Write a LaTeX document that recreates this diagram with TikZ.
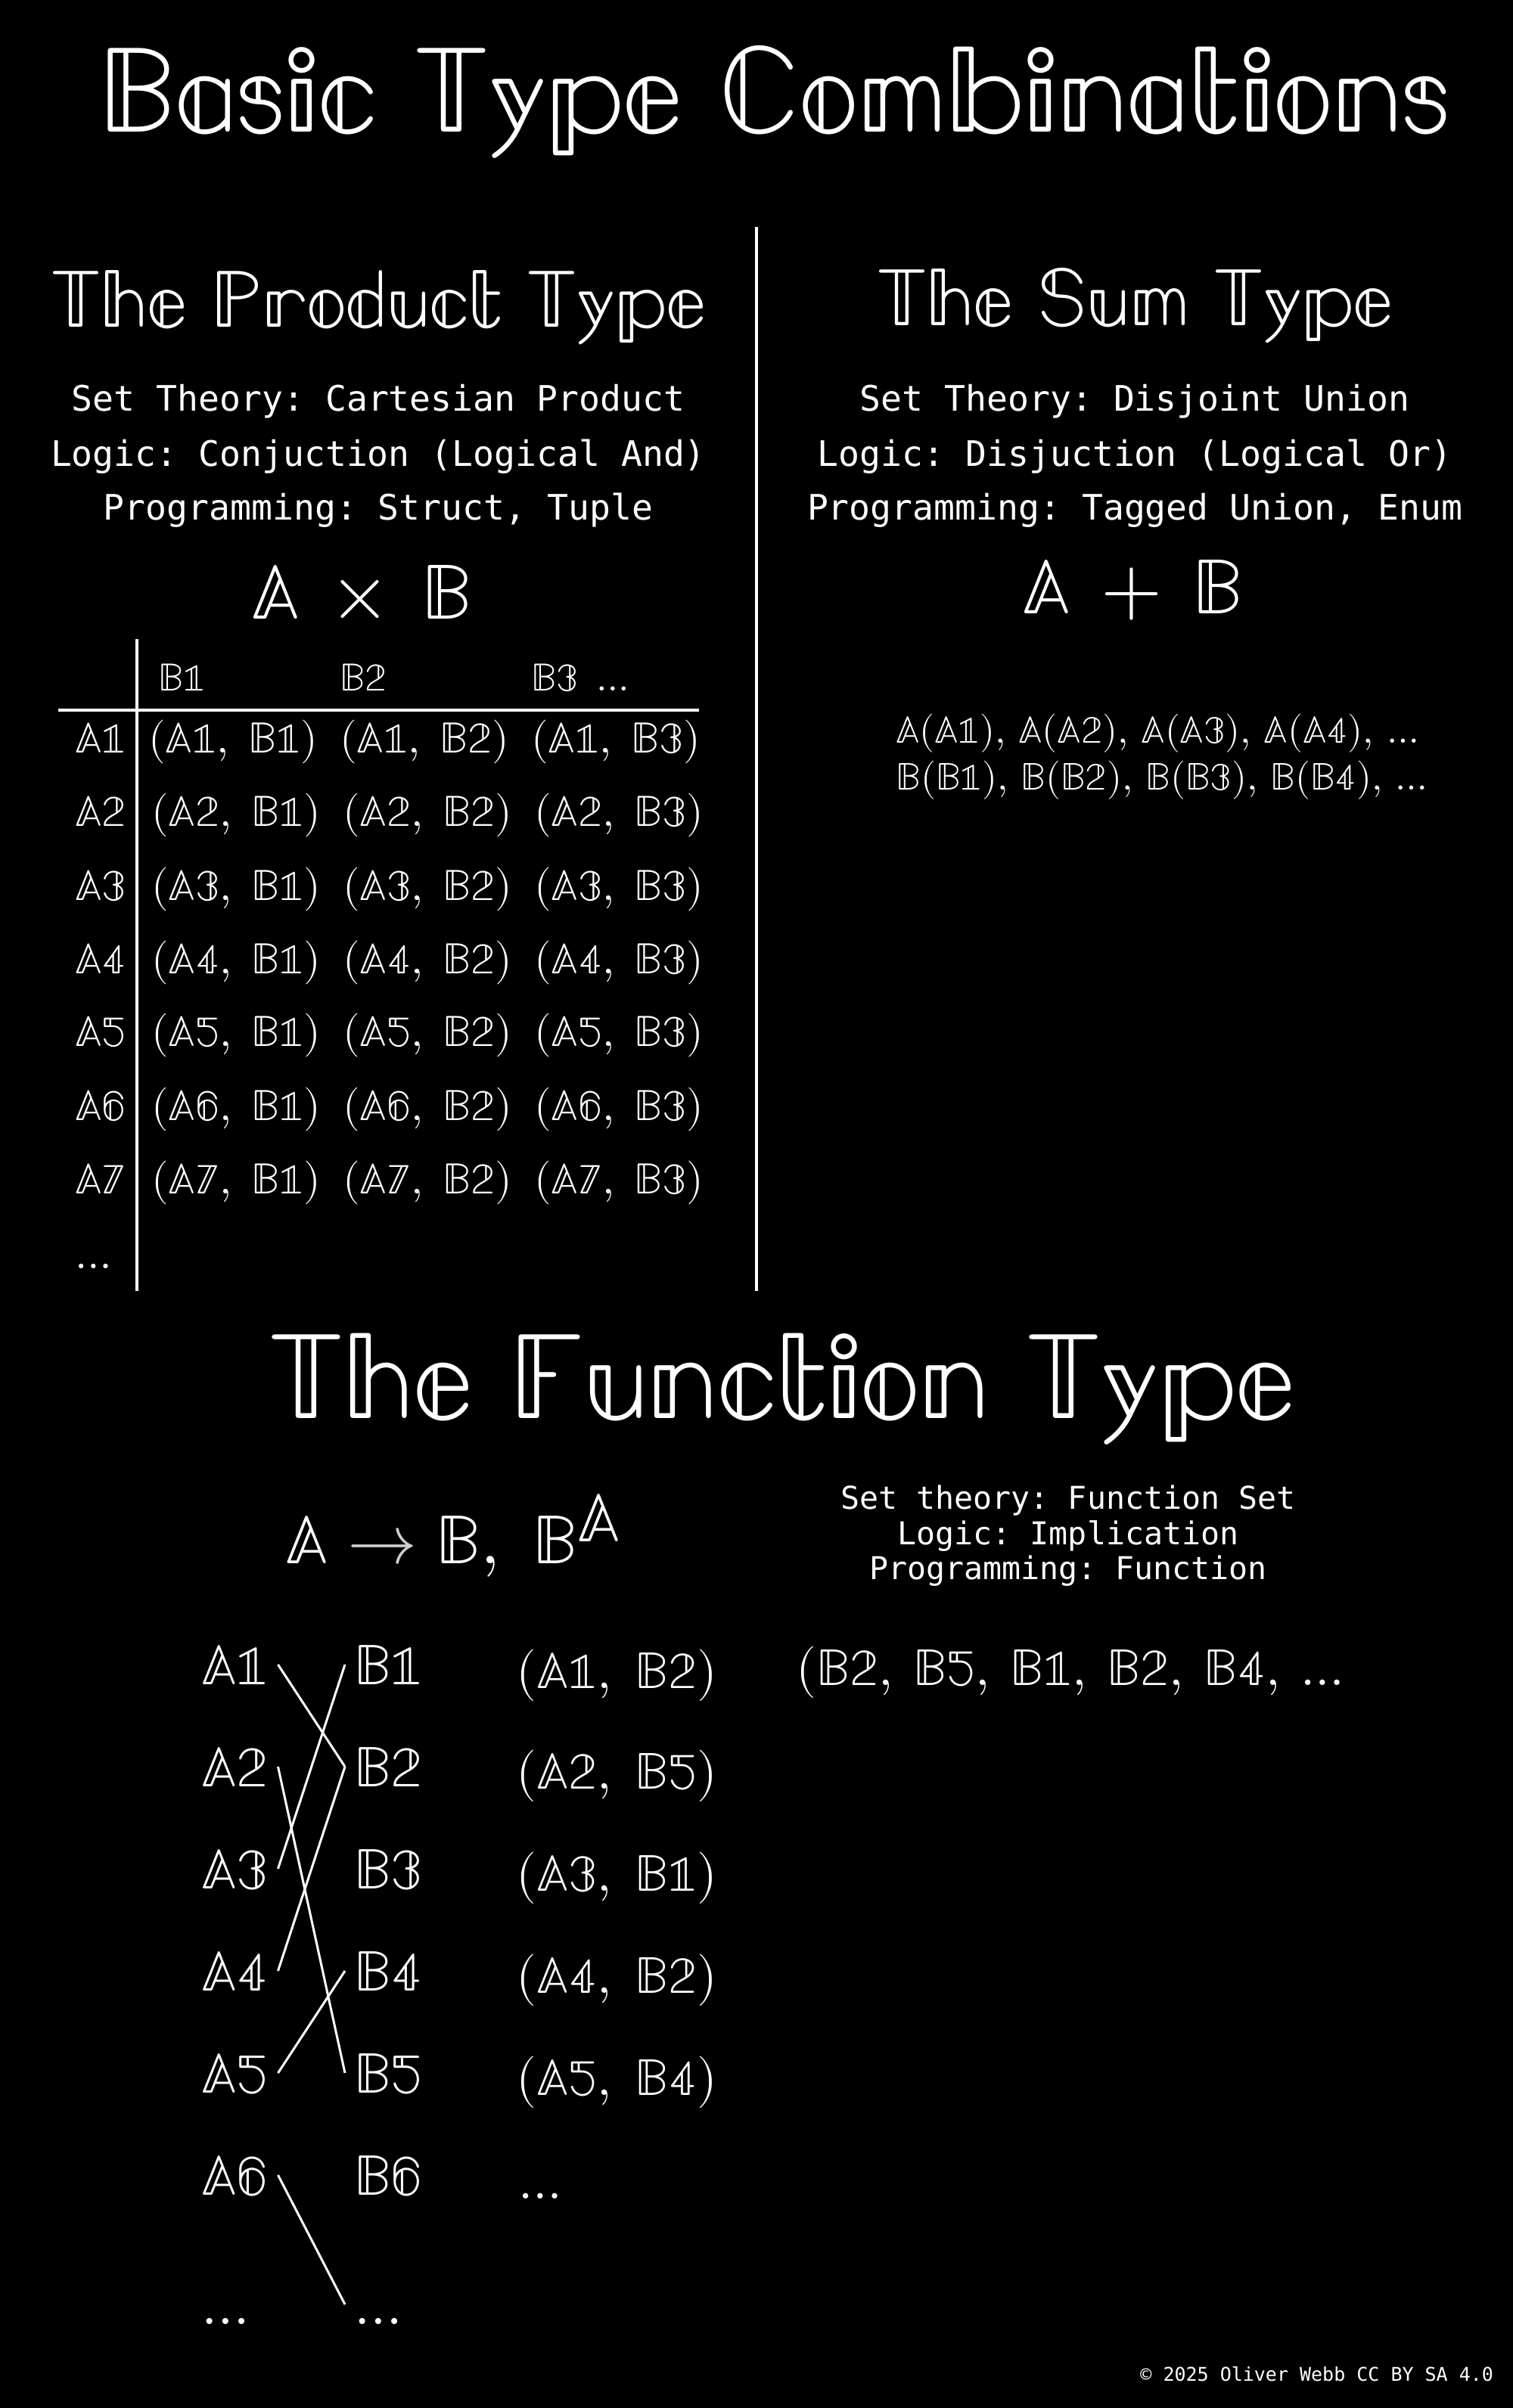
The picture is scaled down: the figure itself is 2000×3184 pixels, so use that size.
\documentclass[tikz,border=0pt]{standalone}
\usepackage{fontspec}
\usepackage{unicode-math}
\setmathfont{Latin Modern Math}
\newfontfamily\monofont{DejaVu Sans Mono}
\frenchspacing
\usetikzlibrary{positioning}
\definecolor{arrowgrey}{RGB}{205,205,205}
\tikzset{
  bigtitle/.style = {text=white, anchor=base, inner sep=0pt,
                     font=\fontsize{81}{83}\selectfont},
  head/.style     = {text=white, anchor=base, inner sep=0pt,
                     font=\fontsize{54}{56}\selectfont},
  sym/.style      = {head, font=\fontsize{52}{54}\selectfont},
  info/.style     = {text=white, anchor=base, inner sep=0pt,
                     font=\monofont\fontsize{23.2}{26}\selectfont},
  infosmall/.style= {text=white, anchor=base, inner sep=0pt,
                     font=\monofont\fontsize{20.8}{23}\selectfont},
  credit/.style   = {text=white, anchor=base west, inner sep=0pt,
                     font=\monofont\fontsize{12.5}{14}\selectfont},
  cell/.style     = {text=white, anchor=base west, inner sep=0pt,
                     font=\fontsize{29}{31}\selectfont},
  sumcell/.style  = {cell, font=\fontsize{25.6}{28}\selectfont},
  colhead/.style  = {cell, font=\fontsize{26}{28}\selectfont},
  arrowsym/.style = {text=white, anchor=base west, inner sep=0pt,
                     font=\fontsize{46}{48}\selectfont},
  elem/.style     = {text=white, anchor=base west, inner sep=6pt,
                     text height=26pt, text depth=0pt,
                     font=\fontsize{38}{40}\selectfont},
  pair/.style     = {text=white, anchor=base west, inner sep=0pt,
                     font=\fontsize{34.4}{36}\selectfont},
  tabline/.style  = {white, line width=2.2pt},
  mapline/.style  = {white, line width=1.5pt}
}

\begin{document}
\begin{tikzpicture}[x=0.5pt, y=-0.5pt]
  \fill[black] (0,0) rectangle (2000,3184);
  \useasboundingbox (0,0) rectangle (2000,3184);

  % title
  \node[bigtitle] (title) at (1023,175) {$\mathbb{Basic}\ \mathbb{Type}\ \mathbb{Combinations}$};

  % product type
  \node[head] (prod) at (500,432) {$\mathbb{The}\ \mathbb{Product}\ \mathbb{Type}$};
  \node[info] (prodset) at (500,543) {Set Theory: Cartesian Product};
  \node[info] (prodlogic) at (500,616) {Logic: Conjuction (Logical And)};
  \node[info] (prodprog) at (500,687) {Programming: Struct, Tuple};
  \node[sym] (prodsym) at (478,818) {$\mathbb{A}\,\times\,\mathbb{B}$};

  \node[colhead] (hb1) at (209,913) {$\mathbb{B1}$};
  \node[colhead] (hb2) at (449,913) {$\mathbb{B2}$};
  \node[colhead] (hb3) at (702,913) {$\mathbb{B3}\ \dots$};

  \node[cell] (ra1) at (99,995) {$\mathbb{A1}$};
  \node[cell] (ra2) at (99,1092) {$\mathbb{A2}$};
  \node[cell] (ra3) at (99,1190) {$\mathbb{A3}$};
  \node[cell] (ra4) at (99,1287) {$\mathbb{A4}$};
  \node[cell] (ra5) at (99,1383) {$\mathbb{A5}$};
  \node[cell] (ra6) at (99,1481) {$\mathbb{A6}$};
  \node[cell] (ra7) at (99,1578) {$\mathbb{A7}$};
  \node[cell] (radots) at (99,1677) {$\dots$};

  \node[cell] (row1) at (196,995) {$(\mathbb{A1},\;\mathbb{B1})\enspace(\mathbb{A1},\;\mathbb{B2})\enspace(\mathbb{A1},\;\mathbb{B3})$};
  \node[cell] (row2) at (200,1092) {$(\mathbb{A2},\;\mathbb{B1})\enspace(\mathbb{A2},\;\mathbb{B2})\enspace(\mathbb{A2},\;\mathbb{B3})$};
  \node[cell] (row3) at (200,1190) {$(\mathbb{A3},\;\mathbb{B1})\enspace(\mathbb{A3},\;\mathbb{B2})\enspace(\mathbb{A3},\;\mathbb{B3})$};
  \node[cell] (row4) at (200,1287) {$(\mathbb{A4},\;\mathbb{B1})\enspace(\mathbb{A4},\;\mathbb{B2})\enspace(\mathbb{A4},\;\mathbb{B3})$};
  \node[cell] (row5) at (200,1383) {$(\mathbb{A5},\;\mathbb{B1})\enspace(\mathbb{A5},\;\mathbb{B2})\enspace(\mathbb{A5},\;\mathbb{B3})$};
  \node[cell] (row6) at (200,1481) {$(\mathbb{A6},\;\mathbb{B1})\enspace(\mathbb{A6},\;\mathbb{B2})\enspace(\mathbb{A6},\;\mathbb{B3})$};
  \node[cell] (row7) at (200,1578) {$(\mathbb{A7},\;\mathbb{B1})\enspace(\mathbb{A7},\;\mathbb{B2})\enspace(\mathbb{A7},\;\mathbb{B3})$};

  \draw[tabline] (181,845) -- (181,1707);
  \draw[tabline] (77,939) -- (924,939);
  \draw[tabline] (1000,300) -- (1000,1707);

  % sum type
  \node[head] (sum) at (1500,430) {$\mathbb{The}\ \mathbb{Sum}\ \mathbb{Type}$};
  \node[info] (sumset) at (1500,543) {Set Theory: Disjoint Union};
  \node[info] (sumlogic) at (1500,616) {Logic: Disjuction (Logical Or)};
  \node[info] (sumprog) at (1500,687) {Programming: Tagged Union, Enum};
  \node[sym] (sumsym) at (1497,811) {$\mathbb{A}\,+\,\mathbb{B}$};
  \node[sumcell] (suma) at (1184,982) {$\mathbb{A}(\mathbb{A1}),\,\mathbb{A}(\mathbb{A2}),\,\mathbb{A}(\mathbb{A3}),\,\mathbb{A}(\mathbb{A4}),\,\dots$};
  \node[sumcell] (sumb) at (1184,1044) {$\mathbb{B}(\mathbb{B1}),\,\mathbb{B}(\mathbb{B2}),\,\mathbb{B}(\mathbb{B3}),\,\mathbb{B}(\mathbb{B4}),\,\dots$};

  % function type
  \node[bigtitle] (func) at (1033,1875) {$\mathbb{The}\ \mathbb{Function}\ \mathbb{Type}$};
  \node[arrowsym] (funcsym) at (377,2067) {$\mathbb{A}\;\textcolor{arrowgrey}{\rightarrow}\;\mathbb{B},\ \mathbb{B}\raisebox{14.5pt}{$\mathbb{A}$}$};
  \node[infosmall] (funcset) at (1412,1995) {Set theory: Function Set};
  \node[infosmall] (funclogic) at (1412,2042) {Logic: Implication};
  \node[infosmall] (funcprog) at (1412,2088) {Programming: Function};

  \node[elem] (a1) at (254,2227) {$\mathbb{A1}$};
  \node[elem] (a2) at (254,2362) {$\mathbb{A2}$};
  \node[elem] (a3) at (254,2497) {$\mathbb{A3}$};
  \node[elem] (a4) at (254,2632) {$\mathbb{A4}$};
  \node[elem] (a5) at (254,2767) {$\mathbb{A5}$};
  \node[elem] (a6) at (254,2902) {$\mathbb{A6}$};
  \node[elem] (adots) at (254,3073) {$\dots$};

  \node[elem] (b1) at (456,2227) {$\mathbb{B1}$};
  \node[elem] (b2) at (456,2362) {$\mathbb{B2}$};
  \node[elem] (b3) at (456,2497) {$\mathbb{B3}$};
  \node[elem] (b4) at (456,2632) {$\mathbb{B4}$};
  \node[elem] (b5) at (456,2767) {$\mathbb{B5}$};
  \node[elem] (b6) at (456,2902) {$\mathbb{B6}$};
  \node[elem] (bdots) at (456,3073) {$\dots$};

  \node[pair] (p1) at (682,2232) {$(\mathbb{A1},\;\mathbb{B2})$};
  \node[pair] (p2) at (682,2365) {$(\mathbb{A2},\;\mathbb{B5})$};
  \node[pair] (p3) at (682,2500) {$(\mathbb{A3},\;\mathbb{B1})$};
  \node[pair] (p4) at (682,2635) {$(\mathbb{A4},\;\mathbb{B2})$};
  \node[pair] (p5) at (682,2770) {$(\mathbb{A5},\;\mathbb{B4})$};
  \node[pair] (pdots) at (685,2907) {$\dots$};
  \node[pair] (seq) at (1052,2228) {$(\mathbb{B2},\:\mathbb{B5},\:\mathbb{B1},\:\mathbb{B2},\:\mathbb{B4},\:\dots$};

  \draw[mapline] (a1.east) -- (b2.west);
  \draw[mapline] (a2.east) -- (b5.west);
  \draw[mapline] (a3.east) -- (b1.west);
  \draw[mapline] (a4.east) -- (b2.west);
  \draw[mapline] (a5.east) -- (b4.west);
  \draw[mapline] (a6.east) -- (bdots.west);

  \node[credit] (copy) at (1507,3148) {© 2025 Oliver Webb CC BY SA 4.0};
\end{tikzpicture}
\end{document}
